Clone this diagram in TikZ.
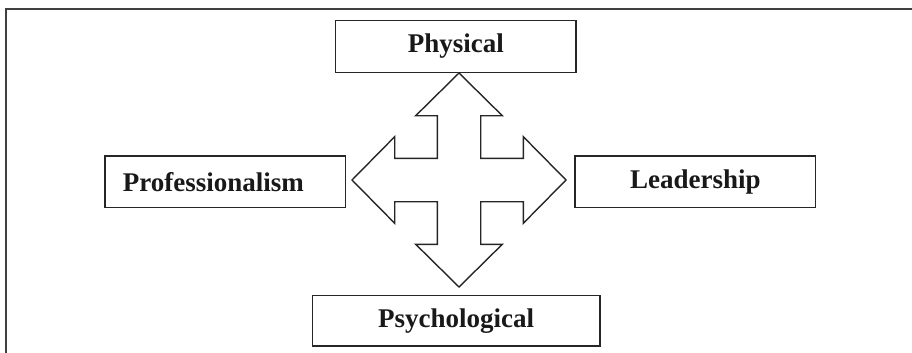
\documentclass[tikz,border=0pt]{standalone}
\usepackage{fontspec}
\setmainfont{Liberation Serif}
\usetikzlibrary{calc}
\begin{document}
\begin{tikzpicture}[x=1pt,y=-1pt,
  box/.style={draw=black!85,line width=1.4pt,fill=white,inner sep=0pt,
    font=\fontsize{27}{30}\selectfont\bfseries,text=black!90},
  crossline/.style={draw=black!85,line width=1.4pt,line join=miter}]
\useasboundingbox (0,0) rectangle (912,353);
\draw[black!75,line width=2pt] (5.5,353) -- (5.5,9) -- (912,9);
\node[box,minimum width=240.3pt,minimum height=51.6pt] (phys) at (455.85,46.5) {Physical};
\node[box,minimum width=240.7pt,minimum height=51.7pt] (prof) at (225.35,181.85) {Professionalism\kern24pt\relax};
\node[box,minimum width=240.7pt,minimum height=51.7pt] (lead) at (695.35,181.85) {Leadership};
\node[box,minimum width=287.7pt,minimum height=50.3pt] (psy) at (456.15,320.85) {Psychological};
\coordinate (c) at (459,180);
\def\tp{107}\def\bs{64.3}\def\sh{21.7}\def\hd{43.3}
\draw[crossline] ($(c)+(0,-\tp)$) -- ++(\hd,\tp-\bs) -- ++(-\hd+\sh,0) -- ++(0,\bs-\sh)
  -- ++(\bs-\sh,0) -- ++(0,\sh-\hd) -- ++(\tp-\bs,\hd) -- ++(\bs-\tp,\hd) -- ++(0,\sh-\hd)
  -- ++(\sh-\bs,0) -- ++(0,\bs-\sh) -- ++(\hd-\sh,0) -- ++(-\hd,\tp-\bs) -- ++(-\hd,\bs-\tp)
  -- ++(\hd-\sh,0) -- ++(0,\sh-\bs) -- ++(\sh-\bs,0) -- ++(0,\hd-\sh) -- ++(\bs-\tp,-\hd)
  -- ++(\tp-\bs,-\hd) -- ++(0,\hd-\sh) -- ++(\bs-\sh,0) -- ++(0,\sh-\bs) -- ++(\sh-\hd,0) -- cycle;
\end{tikzpicture}
\end{document}
